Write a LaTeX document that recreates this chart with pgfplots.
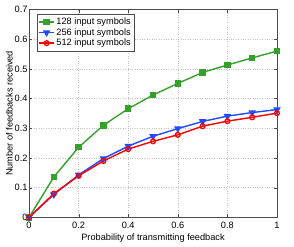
\documentclass[border=0pt]{standalone}
\usepackage{pgfplots}
\pgfplotsset{compat=1.18}
\usepackage{fontspec}
\setmainfont{Liberation Sans}
\definecolor{mgreen}{rgb}{0.2,0.63,0.17}
\definecolor{mblue}{rgb}{0.12,0.3,1}
\definecolor{mred}{rgb}{1,0,0}
\begin{document}
\begin{tikzpicture}
\begin{axis}[
  name=ax,
  scale only axis,
  width=247.5pt, height=207.5pt,
  xmin=0, xmax=1, ymin=0, ymax=0.7,
  xtick={0,0.2,...,1}, ytick={0,0.1,...,0.7},
  tick align=inside,
  tick pos=both,
  major tick length=3pt,
  grid=major,
  grid style={dotted, gray!45, line width=0.35pt},
  axis line style={gray!60!black, line width=0.5pt},
  tick style={gray!60!black},
  font=\fontsize{9.2}{10}\selectfont,
  /pgf/number format/assume math mode=true,
  /pgf/number format/fixed,
  xlabel={Probability of transmitting feedback},
  ylabel={Number of feedbacks received},
  xlabel style={yshift=1pt},
  ylabel style={yshift=-5pt},
  xticklabel style={yshift=-1pt},
  yticklabel style={xshift=2pt},
  legend style={at={(rel axis cs:0,1)}, anchor=north west, xshift=8pt, yshift=-4.5pt, draw=gray!60!black, font=\fontsize{9.2}{10}\selectfont, row sep=-1.5pt, inner sep=1.5pt},
  legend cell align=left,
  legend image code/.code={\draw[mark repeat=2,mark phase=2] plot coordinates {(0cm,0cm) (0.25cm,0cm) (0.5cm,0cm)};},
]
\addplot[mgreen, line width=1.4pt, mark=square*, mark size=2.5pt] coordinates {
(0,0) (0.1,0.136) (0.2,0.236) (0.3,0.31) (0.4,0.366) (0.5,0.412) (0.6,0.451) (0.7,0.488) (0.8,0.513) (0.9,0.537) (1,0.56)};
\addlegendentry{128 input symbols}
\addplot[mblue, line width=1.4pt, mark=triangle*, mark options={rotate=180}, mark size=3pt] coordinates {
(0,0) (0.1,0.077) (0.2,0.143) (0.3,0.198) (0.4,0.24) (0.5,0.273) (0.6,0.299) (0.7,0.323) (0.8,0.341) (0.9,0.353) (1,0.363)};
\addlegendentry{256 input symbols}
\addplot[mred, line width=1.4pt, mark=o, mark size=2.4pt, mark options={line width=1.3pt}] coordinates {
(0,0) (0.1,0.08) (0.2,0.14) (0.3,0.19) (0.4,0.23) (0.5,0.256) (0.6,0.278) (0.7,0.307) (0.8,0.324) (0.9,0.337) (1,0.351)};
\addlegendentry{512 input symbols}
\end{axis}
\path (ax.south west) ++(-29pt,-27pt) -- (ax.north east) -- ++(17pt,9.5pt);
\end{tikzpicture}
\end{document}
